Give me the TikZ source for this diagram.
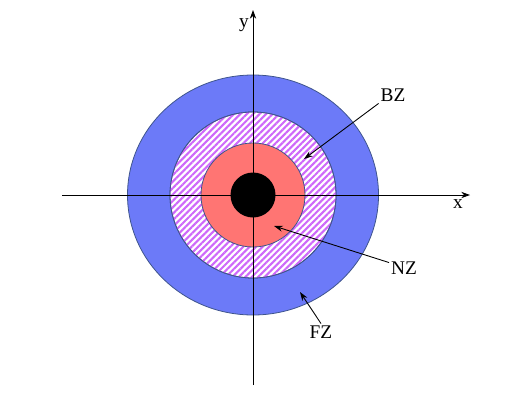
\documentclass[tikz,border=0pt]{standalone}
\usepackage{fontspec}
\setmainfont{Liberation Serif}
\usetikzlibrary{arrows.meta,patterns.meta}
\definecolor{fzblue}{RGB}{108,122,248}
\definecolor{nzred}{RGB}{255,117,115}
\definecolor{bzhatch}{RGB}{206,104,250}
\definecolor{rimline}{RGB}{62,84,140}
\tikzset{
	zone/.style={draw=rimline, line width=0.45pt},
	axis/.style={line width=0.5pt, -{Stealth[length=5pt, width=3.6pt]}},
	callout/.style={line width=0.5pt, -{Stealth[length=5pt, width=3.4pt]}},
	lbl/.style={font=\fontsize{11}{13}\selectfont, inner sep=1pt},
}

\begin{document}
\begin{tikzpicture}[x=0.02cm, y=0.02cm]
	\useasboundingbox (0,0) rectangle (519,406);
	\coordinate (o) at (253,211);
	% zones
	\filldraw[zone, fill=fzblue] (o) ellipse [x radius=125.5, y radius=120];
	\filldraw[zone, fill=white] (o) circle [radius=83];
	\fill[pattern={Lines[angle=45, distance=2.6pt, line width=1.2pt]}, pattern color=bzhatch] (o) circle [radius=83];
	\draw[zone] (o) circle [radius=83];
	\filldraw[zone, fill=nzred] (o) circle [radius=52];
	\fill[black] (o) circle [radius=22.5];
	% axes
	\coordinate (xl) at (62,211);
	\coordinate (xr) at (470,211);
	\coordinate (yb) at (253,21);
	\coordinate (yt) at (253,396);
	\draw[axis] (xl) -- (xr);
	\draw[axis] (yb) -- (yt);
	\node[lbl] at (458,202) (xlab) {x};
	\node[lbl] at (244,381) (ylab) {y};
	% labels
	\node[lbl] at (393,311) (bz) {BZ};
	\node[lbl] at (404,138) (nz) {NZ};
	\node[lbl] at (321,74) (fz) {FZ};
	\coordinate (bztip) at (304,247);
	\coordinate (nztip) at (274,180);
	\coordinate (fztip) at (300,114);
	\draw[callout] (bz.south west) -- (bztip);
	\draw[callout] (nz.160) -- (nztip);
	\draw[callout] (fz.north) -- (fztip);
\end{tikzpicture}
\end{document}
